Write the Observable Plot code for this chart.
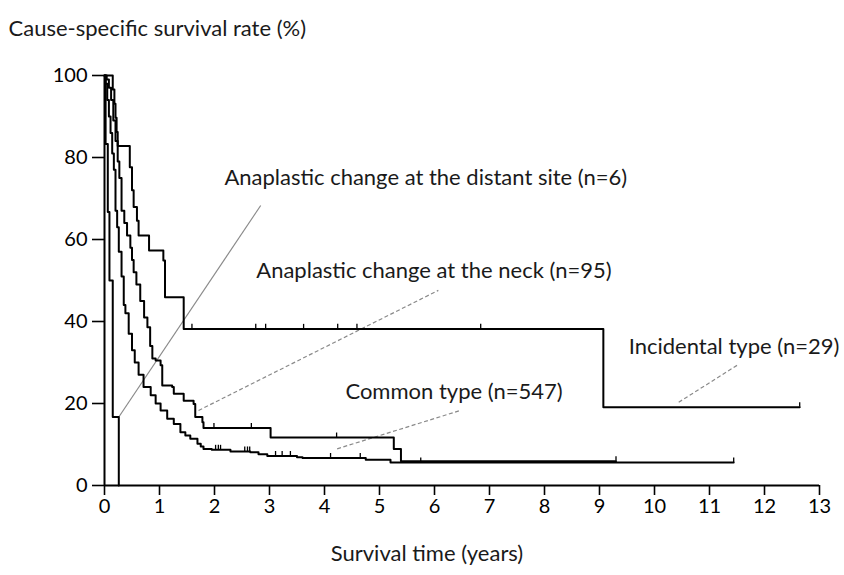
<!DOCTYPE html>
<html>
<head>
<meta charset="utf-8">
<script src="https://cdn.jsdelivr.net/npm/d3@7"></script>
<script src="https://cdn.jsdelivr.net/npm/@observablehq/plot@0.6"></script>
<style>
  body { margin: 0; background: #fff; }
</style>
</head>
<body>
<div id="chart"></div>
<script>
// ---- Data ----
const xTicks = [0,1,2,3,4,5,6,7,8,9,10,11,12,13];
const yTicks = [0,20,40,60,80,100];

// Common type (n=547)
const commonTime = [0,0.02,0.05,0.08,0.11,0.14,0.17,0.2,0.23,0.26,0.31,0.35,0.38,0.44,0.5,0.55,0.62,0.71,0.84,0.93,1.02,1.14,1.26,1.38,1.47,1.56,1.69,1.75,1.8,1.95,2.29,2.65,2.8,2.96,3.5,3.6,4.75,5.2,11.44];
const commonSurv = [100,98,94,90,86,81,77,67,63,57,51,44,42,37,33,30,27,24,22,20,18.3,16.3,15,13,12.2,11.4,10.2,9.5,8.9,8.7,8.3,8.1,7.6,7.2,6.9,6.7,6.3,5.6,5.6];
const commonCensor = [2.02,2.07,2.11,2.55,2.6,2.64,3.11,3.23,3.38,4.11,4.65,5.75,11.44];

// Anaplastic change at the neck (n=95)
const neckTime = [0,0.04,0.08,0.12,0.16,0.2,0.24,0.27,0.31,0.36,0.41,0.47,0.5,0.53,0.58,0.65,0.72,0.78,0.83,0.87,0.93,1.02,1.05,1.23,1.26,1.44,1.62,1.65,1.78,1.8,3.02,5.26,5.39,9.3];
const neckSurv = [100,99,97,94,89,84,79,75,67,64,61,58,55,52,49,45,41,38.6,34,31,30.5,29.3,24.4,24,22.4,20.7,19.9,16.7,15.4,14,11.7,8.9,5.9,5.9];
const neckCensor = [1.99,2.67,4.22,9.3];

// Incidental type (n=29)
const incidentalTime = [0,0.15,0.18,0.2,0.22,0.24,0.46,0.5,0.53,0.59,0.62,0.81,1.07,1.1,1.44,9.07,12.64];
const incidentalSurv = [100,96.6,93.1,89.7,86.2,82.8,77.6,72,67.9,64.6,61,57.3,54.9,45.9,38.2,19.1,19.1];
const incidentalCensor = [1.59,2.75,2.93,3.62,4.24,4.59,6.84,12.64];

// Anaplastic change at the distant site (n=6)
const distantTime = [0,0.02,0.06,0.09,0.15,0.26];
const distantSurv = [100,83.3,66.7,50,16.7,0];

// Annotation labels and their leader lines (data units)
const labelText = ["Anaplastic change at the distant site (n=6)","Anaplastic change at the neck (n=95)","Incidental type (n=29)","Common type (n=547)"];
const labelTime = [2.18, 2.76, 9.53, 4.38];
const labelSurv = [74.9, 52.4, 33.9, 22.9];
const leaderT1 = [0.26, 1.71, 10.44, 4.23];
const leaderS1 = [16.7, 18.3, 20.3, 8.95];
const leaderT2 = [2.84, 6.07, 11.5, 6.47];
const leaderS2 = [68.3, 47.6, 29.3, 18.3];
const leaderDashed = [false, true, true, true];

const yTitle = "Cause-specific survival rate (%)";
const xTitle = "Survival time (years)";

// ---- Build tables ----
const toRows = (ts, ss) => ts.map((t, i) => ({t, s: ss[i]}));
const series = [
  toRows(commonTime, commonSurv),
  toRows(neckTime, neckSurv),
  toRows(incidentalTime, incidentalSurv),
  toRows(distantTime, distantSurv)
];
function survAt(rows, t) {
  let v = rows[0].s;
  for (const r of rows) { if (r.t <= t) v = r.s; else break; }
  return v;
}
const censor = [
  ...commonCensor.map(t => ({t, s: survAt(series[0], t)})),
  ...neckCensor.map(t => ({t, s: survAt(series[1], t)})),
  ...incidentalCensor.map(t => ({t, s: survAt(series[2], t)}))
];
const labels = labelText.map((text, i) => ({text, t: labelTime[i], s: labelSurv[i]}));
const leaders = leaderT1.map((t1, i) => ({t1, s1: leaderS1[i], t2: leaderT2[i], s2: leaderS2[i], dashed: leaderDashed[i]}));

const font = "Lato, 'Open Sans', sans-serif";
const txt = 22;

const chart = Plot.plot({
  width: 844,
  height: 575,
  marginLeft: 104,
  marginRight: 25,
  marginTop: 75,
  marginBottom: 90,
  style: {fontFamily: font, fontSize: "20px", color: "#000", background: "#fff", overflow: "visible"},
  x: {domain: [0, 13]},
  y: {domain: [0, 100]},
  marks: [
    Plot.axisX({ticks: xTicks, tickSize: 10, tickPadding: 3, label: null, tickFormat: d => d, strokeWidth: 1.6, fontSize: 20}),
    Plot.axisY({ticks: yTicks, tickSize: 12, tickPadding: 5, label: null, tickFormat: d => d, strokeWidth: 1.6, fontSize: 20}),
    Plot.ruleY([0], {stroke: "#000", strokeWidth: 2}),
    Plot.ruleX([0], {stroke: "#000", strokeWidth: 2}),
    Plot.link(leaders.filter(d => !d.dashed), {x1: "t1", y1: "s1", x2: "t2", y2: "s2", stroke: "#8a8a8a", strokeWidth: 1.2}),
    Plot.link(leaders.filter(d => d.dashed), {x1: "t1", y1: "s1", x2: "t2", y2: "s2", stroke: "#8a8a8a", strokeWidth: 1.2, strokeDasharray: "4,2.5"}),
    ...series.map(rows => Plot.line(rows, {x: "t", y: "s", curve: "step-after", stroke: "#000", strokeWidth: 2})),
    Plot.ruleX(censor, {x: "t", y1: "s", y2: d => d.s + 1.1, stroke: "#000", strokeWidth: 1.3}),
    Plot.text(labels, {x: "t", y: "s", text: "text", textAnchor: "start", lineAnchor: "middle", fontSize: txt, fill: "#1a1a1a"}),
    Plot.text([yTitle], {frameAnchor: "top-left", dx: -96, dy: -47, textAnchor: "start", lineAnchor: "middle", fontSize: txt, fill: "#1a1a1a"}),
    Plot.text([xTitle], {frameAnchor: "bottom", dx: -35, dy: 68, lineAnchor: "middle", fontSize: txt, fill: "#1a1a1a"})
  ]
});
document.getElementById("chart").appendChild(chart);
</script>
</body>
</html>
